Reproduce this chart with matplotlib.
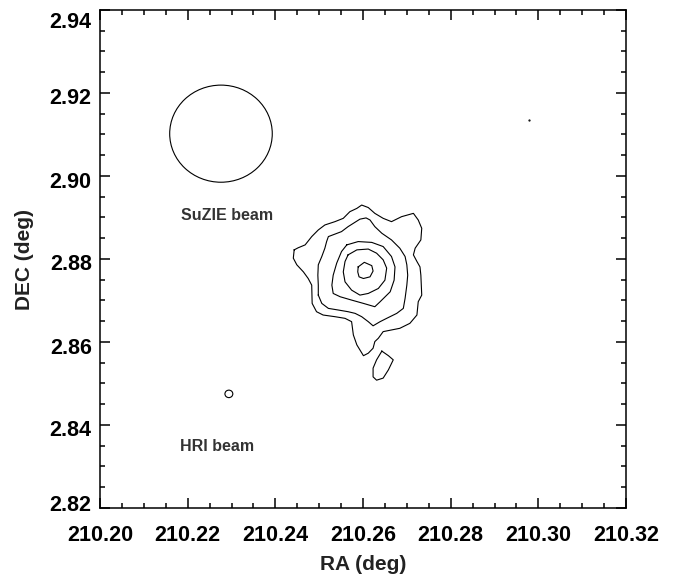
import matplotlib.pyplot as plt
import numpy as np
from matplotlib.patches import Circle
from matplotlib.ticker import MultipleLocator
from matplotlib.transforms import ScaledTranslation

plt.rcParams["font.family"] = ["Liberation Sans", "DejaVu Sans"]
plt.rcParams["font.weight"] = "bold"

# X-ray surface brightness contours (RA, DEC in degrees), outermost first
outer_ra = [210.2443, 210.2452, 210.2468, 210.2483, 210.2498, 210.2513, 210.2536, 210.2555,
            210.2570, 210.2586, 210.2597, 210.2612, 210.2627, 210.2646, 210.2665, 210.2688,
            210.2715, 210.2726, 210.2734, 210.2732, 210.2719, 210.2715, 210.2723, 210.2730,
            210.2732, 210.2734, 210.2726, 210.2723, 210.2707, 210.2684, 210.2665, 210.2646,
            210.2635, 210.2627, 210.2623, 210.2612, 210.2601, 210.2586, 210.2578, 210.2574,
            210.2559, 210.2536, 210.2509, 210.2494, 210.2484, 210.2483, 210.2475, 210.2464,
            210.2449, 210.2441]
outer_dec = [2.8822, 2.8827, 2.8834, 2.8854, 2.8870, 2.8882, 2.8890, 2.8898,
             2.8914, 2.8922, 2.8930, 2.8924, 2.8910, 2.8898, 2.8890, 2.8902,
             2.8910, 2.8894, 2.8874, 2.8846, 2.8826, 2.8810, 2.8794, 2.8781,
             2.8761, 2.8713, 2.8697, 2.8665, 2.8645, 2.8633, 2.8629, 2.8625,
             2.8609, 2.8601, 2.8585, 2.8573, 2.8567, 2.8593, 2.8617, 2.8649,
             2.8657, 2.8661, 2.8665, 2.8673, 2.8693, 2.8737, 2.8753, 2.8769,
             2.8786, 2.8802]

ring2_ra = [210.2498, 210.2498, 210.2497, 210.2498, 210.2506, 210.2513, 210.2517, 210.2521,
            210.2536, 210.2551, 210.2566, 210.2578, 210.2593, 210.2607, 210.2616, 210.2627,
            210.2643, 210.2665, 210.2684, 210.2696, 210.2700, 210.2702, 210.2700, 210.2696,
            210.2692, 210.2677, 210.2654, 210.2639, 210.2623, 210.2612, 210.2597, 210.2582,
            210.2566, 210.2544, 210.2521, 210.2506]
ring2_dec = [2.8713, 2.8737, 2.8761, 2.8786, 2.8806, 2.8826, 2.8842, 2.8854,
             2.8860, 2.8866, 2.8878, 2.8886, 2.8896, 2.8899, 2.8894, 2.8878,
             2.8862, 2.8846, 2.8826, 2.8806, 2.8786, 2.8761, 2.8737, 2.8705,
             2.8681, 2.8669, 2.8657, 2.8649, 2.8639, 2.8649, 2.8661, 2.8669,
             2.8673, 2.8677, 2.8681, 2.8693]

ring3_ra = [210.2563, 210.2589, 210.2620, 210.2646, 210.2665, 210.2673, 210.2671, 210.2662,
            210.2639, 210.2627, 210.2601, 210.2574, 210.2548, 210.2532, 210.2529, 210.2532,
            210.2540, 210.2551]
ring3_dec = [2.8834, 2.8842, 2.8840, 2.8830, 2.8806, 2.8781, 2.8749, 2.8721,
             2.8697, 2.8685, 2.8693, 2.8701, 2.8709, 2.8717, 2.8737, 2.8761,
             2.8790, 2.8818]

ring4_ra = [210.2566, 210.2586, 210.2612, 210.2631, 210.2646, 210.2654, 210.2650, 210.2635,
            210.2612, 210.2593, 210.2574, 210.2559, 210.2555, 210.2559]
ring4_dec = [2.8810, 2.8822, 2.8824, 2.8814, 2.8798, 2.8778, 2.8749, 2.8729,
             2.8717, 2.8713, 2.8725, 2.8745, 2.8769, 2.8794]

core_ra = [210.2589, 210.2603, 210.2620, 210.2623, 210.2616, 210.2601, 210.2591, 210.2588]
core_dec = [2.8781, 2.8792, 2.8784, 2.8771, 2.8757, 2.8753, 2.8757, 2.8769]

blob_ra = [210.2643, 210.2658, 210.2669, 210.2658, 210.2646, 210.2631, 210.2623, 210.2623,
           210.2631]
blob_dec = [2.8578, 2.8567, 2.8557, 2.8533, 2.8513, 2.8508, 2.8516, 2.8537, 2.8557]

spot_ra = [210.2978]
spot_dec = [2.9135]

# beam sizes (radius, deg)
suzie_center = (210.2276, 2.9102)
suzie_radius = 0.0117
hri_center = (210.2294, 2.8475)
hri_radius = 0.0009

contours = [(outer_ra, outer_dec), (ring2_ra, ring2_dec), (ring3_ra, ring3_dec),
            (ring4_ra, ring4_dec), (core_ra, core_dec), (blob_ra, blob_dec)]

fig = plt.figure(figsize=(6.75, 5.76), dpi=100)
ax = fig.add_axes([100 / 675, 68 / 576, 526 / 675, 498 / 576])

for ra, dec in contours:
    ra = np.append(ra, ra[0])
    dec = np.append(dec, dec[0])
    ax.plot(ra, dec, color="black", lw=0.8)
ax.plot(spot_ra, spot_dec, ".", color="black", ms=1.2)

ax.add_patch(Circle(suzie_center, suzie_radius, fill=False, ec="black", lw=0.8))
ax.add_patch(Circle(hri_center, hri_radius, fill=False, ec="black", lw=0.8))

ax.text(210.2290, 2.8906, "SuZIE beam", ha="center", va="center",
        fontsize=11.5, fontweight="bold", color="#333333")
ax.text(210.2268, 2.8348, "HRI beam", ha="center", va="center",
        fontsize=11.5, fontweight="bold", color="#333333")

ax.set_xlim(210.20, 210.32)
ax.set_ylim(2.82, 2.94)
ax.xaxis.set_major_locator(MultipleLocator(0.02))
ax.xaxis.set_minor_locator(MultipleLocator(0.005))
ax.yaxis.set_major_locator(MultipleLocator(0.02))
ax.yaxis.set_minor_locator(MultipleLocator(0.005))
ax.xaxis.set_major_formatter(plt.FormatStrFormatter("%.2f"))
ax.yaxis.set_major_formatter(plt.FormatStrFormatter("%.2f"))

ax.tick_params(which="both", direction="in", top=True, right=True, width=1.1,
               labelsize=15.5)
ax.tick_params(which="major", length=7.2)
ax.tick_params(which="minor", length=3.6)
ax.tick_params(axis="x", which="major", pad=12)
ax.tick_params(axis="y", which="major", pad=6)
for sp in ax.spines.values():
    sp.set_linewidth(1.1)

ax.set_xlabel("RA (deg)", fontsize=15, fontweight="bold", color="#222222", labelpad=7)
ax.set_ylabel("DEC (deg)", fontsize=15, fontweight="bold", color="#222222", labelpad=11)

# nudge the DEC tick labels: slightly below each tick, end labels pulled inward
fig.canvas.draw()
yticks = [t for t in ax.yaxis.get_major_ticks() if 2.8199 <= t.get_loc() <= 2.9401]
for t in yticks:
    dy = -3.5
    if abs(t.get_loc() - 2.94) < 1e-6:
        dy = -10
    elif abs(t.get_loc() - 2.82) < 1e-6:
        dy = 5
    lab = t.label1
    lab.set_transform(lab.get_transform() + ScaledTranslation(0, dy / 100, fig.dpi_scale_trans))

fig.savefig("out.png", dpi=100)
